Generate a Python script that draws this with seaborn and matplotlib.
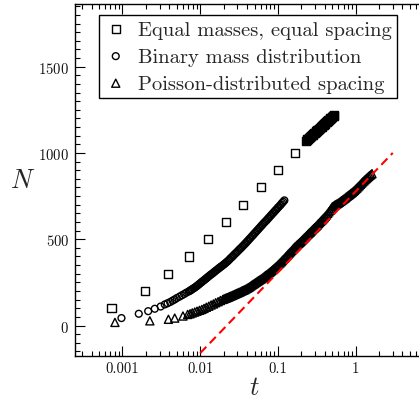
import matplotlib
matplotlib.use("Agg")
import matplotlib.pyplot as plt
import seaborn as sns
from matplotlib.ticker import FixedLocator, FixedFormatter, MultipleLocator, LogLocator, NullFormatter

# ---------------- data ----------------
# Equal masses, equal spacing (squares)
sq_t = [0.000723, 0.00194, 0.00386, 0.00721, 0.0125, 0.0214, 0.0357, 0.0604, 0.101, 0.167,
        0.229, 0.234, 0.239, 0.245, 0.250, 0.256, 0.261, 0.268, 0.274, 0.280, 0.286, 0.292,
        0.299, 0.305, 0.312, 0.319, 0.326, 0.333, 0.340, 0.348, 0.356, 0.364, 0.372, 0.380,
        0.389, 0.397, 0.406, 0.415, 0.425, 0.434, 0.444, 0.454, 0.465, 0.475, 0.485, 0.496,
        0.507, 0.518, 0.530]
sq_N = [100, 200, 300, 400, 500, 600, 700, 800, 900, 1000,
        1071, 1075, 1079, 1083, 1087, 1091, 1094, 1098, 1102, 1106, 1110, 1114,
        1118, 1122, 1126, 1130, 1133, 1137, 1141, 1145, 1149, 1153, 1157, 1161,
        1165, 1169, 1173, 1177, 1181, 1185, 1189, 1193, 1197, 1201, 1205, 1209,
        1212, 1216, 1220]

# Binary mass distribution (circles)
ci_t = [0.00097, 0.00162, 0.00214, 0.0026, 0.0031,
        0.0035, 0.0038, 0.0041, 0.0044, 0.0047, 0.005, 0.0054, 0.0058, 0.0062, 0.0066,
        0.0071, 0.0076, 0.0081, 0.0087, 0.0093, 0.01, 0.0107, 0.0115, 0.0123, 0.0132,
        0.0141, 0.0151, 0.0162, 0.0174, 0.0186, 0.02, 0.0214, 0.023, 0.0246, 0.0264,
        0.0283, 0.0303, 0.0325, 0.0348, 0.0373, 0.04, 0.0429, 0.046, 0.0493, 0.0528,
        0.0566, 0.0607, 0.065, 0.0697, 0.0747, 0.08, 0.0858, 0.092, 0.0986, 0.106,
        0.113, 0.121,
        0.00735, 0.0078, 0.0084, 0.009, 0.00965, 0.01035, 0.0111, 0.0119, 0.0127, 0.0136,
        0.0146, 0.0156, 0.0168, 0.018, 0.0193, 0.0207, 0.0222, 0.0238, 0.0255, 0.0273,
        0.0293, 0.0314, 0.0336, 0.036, 0.0386, 0.0414, 0.0444, 0.0476, 0.051, 0.0547,
        0.0586, 0.0628, 0.0673, 0.0722, 0.0773, 0.0828, 0.0888, 0.0952, 0.102, 0.1095,
        0.117]
ci_N = [43, 68, 83, 97, 110,
        122, 129, 136, 144, 151, 159, 167, 175, 182, 190,
        197, 205, 214, 223, 233, 245, 256, 267, 278, 289,
        299, 310, 321, 332, 342, 353, 364, 376, 390, 403,
        417, 430, 444, 457, 471, 486, 501, 516, 531, 546,
        561, 576, 591, 605, 620, 635, 650, 665, 680, 695,
        710, 725,
        201, 209, 218, 228, 239, 250, 261, 272, 283, 294,
        304, 315, 326, 337, 347, 358, 370, 383, 396, 410,
        423, 437, 450, 464, 478, 493, 508, 523, 538, 553,
        568, 583, 598, 612, 627, 642, 657, 672, 687, 702,
        717]

# Poisson-distributed spacing (triangles)
tr_t = [0.0008, 0.00225, 0.0039, 0.0047, 0.006,
        0.0069, 0.0074, 0.0079, 0.0085, 0.0091, 0.0098, 0.0105, 0.0112, 0.012, 0.0129,
        0.0138, 0.0148, 0.0158, 0.017, 0.0182, 0.0195, 0.0209, 0.0224, 0.024, 0.0257,
        0.0275, 0.0295, 0.0316, 0.0339, 0.0363, 0.0389, 0.0417, 0.0447, 0.0479, 0.0513,
        0.055, 0.0589, 0.0631, 0.0676, 0.0724, 0.0776, 0.0832, 0.0891, 0.0955, 0.102,
        0.11, 0.117, 0.126, 0.135, 0.145, 0.155, 0.166, 0.178, 0.191, 0.204,
        0.219, 0.234, 0.251, 0.269, 0.288, 0.309, 0.331, 0.355, 0.38, 0.407,
        0.437, 0.468, 0.501, 0.537, 0.575, 0.617, 0.661, 0.708, 0.759, 0.813,
        0.871, 0.933, 1.0, 1.07, 1.15, 1.23, 1.32, 1.41, 1.51, 1.62,
        0.0202, 0.0216, 0.0232, 0.0248, 0.0266,
        0.0285, 0.0305, 0.0327, 0.0351, 0.0376, 0.0403, 0.0432, 0.0463, 0.0496, 0.0531,
        0.0569, 0.061, 0.0653, 0.07, 0.075, 0.0804, 0.0861, 0.0922, 0.0987, 0.106,
        0.1135, 0.1215, 0.1305, 0.14, 0.15, 0.1605, 0.172, 0.1845, 0.1975, 0.2115,
        0.2265, 0.2425, 0.26, 0.2785, 0.2985, 0.32, 0.343, 0.3675, 0.3935, 0.422,
        0.4525, 0.4845, 0.519, 0.556, 0.596, 0.639, 0.6845, 0.7335, 0.786, 0.842,
        0.902, 0.966, 1.035, 1.11, 1.19, 1.275, 1.365, 1.46, 1.565]
tr_N = [18, 27, 36, 43, 55,
        64, 68, 73, 78, 83, 88, 93, 99, 106, 112,
        119, 125, 132, 138, 145, 151, 157, 162, 168, 174,
        180, 186, 192, 199, 205, 212, 220, 229, 239, 248,
        257, 266, 275, 286, 296, 307, 318, 330, 342, 355,
        369, 383, 398, 413, 427, 442, 456, 469, 481, 494,
        508, 521, 535, 548, 562, 575, 590, 604, 618, 633,
        650, 668, 688, 697, 705, 714, 724, 734, 745, 755,
        766, 777, 790, 803, 818, 832, 845, 857, 869, 880,
        154, 160, 165, 171, 177,
        183, 189, 195, 202, 208, 216, 224, 234, 243, 252,
        261, 270, 280, 291, 301, 312, 324, 336, 348, 362,
        376, 390, 405, 420, 434, 449, 462, 475, 487, 501,
        514, 528, 541, 555, 568, 582, 597, 611, 625, 641,
        659, 678, 692, 701, 709, 719, 729, 739, 750, 760,
        771, 783, 796, 810, 825, 838, 851, 863, 874]

# Fit line (red dashed)
fit_t = [0.01, 3.0]
fit_N = [-160, 1000]

labels = ["Equal masses, equal spacing", "Binary mass distribution",
          "Poisson-distributed spacing"]
xtick_vals = [0.001, 0.01, 0.1, 1]
xtick_labels = ["0.001", "0.01", "0.1", "1"]
ytick_vals = [0, 500, 1000, 1500]

# ---------------- style ----------------
sns.set_theme(style="ticks")
plt.rcParams["font.family"] = ["cmr10", "DejaVu Serif"]
plt.rcParams["mathtext.fontset"] = "cm"
plt.rcParams["axes.formatter.use_mathtext"] = True

fig = plt.figure(figsize=(4.19, 4.02), dpi=100)
W, H = 419.0, 402.0
x0, x1, ytop, ybot = 75.0, 433.4, 5.0, 356.7
ax = fig.add_axes([x0 / W, (H - ybot) / H, (x1 - x0) / W, (ybot - ytop) / H])

mk = dict(facecolor="none", edgecolor="black", color="black", linewidth=1.0, ax=ax)
sns.scatterplot(x=sq_t, y=sq_N, marker="s", s=34, label=labels[0], **mk)
sns.scatterplot(x=ci_t, y=ci_N, marker="o", s=24, label=labels[1], **mk)
sns.scatterplot(x=tr_t, y=tr_N, marker="^", s=34, label=labels[2], **mk)
sns.lineplot(x=fit_t, y=fit_N, color="red", linewidth=1.5, ax=ax,
             dashes=False, linestyle=(0, (4.2, 2.4)), legend=False)

ax.set_xscale("log")
ax.set_xlim(2.45e-4, 10)
ax.set_ylim(-175, 1863)

ax.xaxis.set_major_locator(FixedLocator(xtick_vals))
ax.xaxis.set_major_formatter(FixedFormatter(xtick_labels))
ax.xaxis.set_minor_locator(LogLocator(base=10, subs=[2, 3, 4, 5, 6, 7, 8, 9], numticks=20))
ax.xaxis.set_minor_formatter(NullFormatter())
ax.yaxis.set_major_locator(FixedLocator(ytick_vals))
ax.yaxis.set_minor_locator(MultipleLocator(50))

ax.tick_params(which="both", direction="in", top=True, right=True,
               color="black", width=0.8, labelsize=10.6, pad=4.3, labelcolor="#111111")
ax.tick_params(which="major", length=7.2)
ax.tick_params(which="minor", length=3.6)
for sp in ax.spines.values():
    sp.set_color("black")
    sp.set_linewidth(1.0)
ax.grid(False)

ax.set_xlabel("$t$", fontsize=19, va="center")
ax.set_ylabel("$N$", fontsize=19, rotation=0, ha="center", va="center")
ax.xaxis.set_label_coords(0.5, -0.089)
ax.yaxis.set_label_coords((23 - x0) / (x1 - x0), 0.5)

leg = ax.legend(loc="upper left", bbox_to_anchor=((99.3 - x0) / (x1 - x0), (ybot - 16) / (ybot - ytop)),
                borderaxespad=0, frameon=True, fancybox=False, framealpha=1,
                edgecolor="black", fontsize=14.8, handlelength=1.1, handletextpad=0.55,
                borderpad=0.25, labelspacing=0.42, scatterpoints=1)
leg.get_frame().set_linewidth(1.0)

fig.savefig("out.png", dpi=100)
